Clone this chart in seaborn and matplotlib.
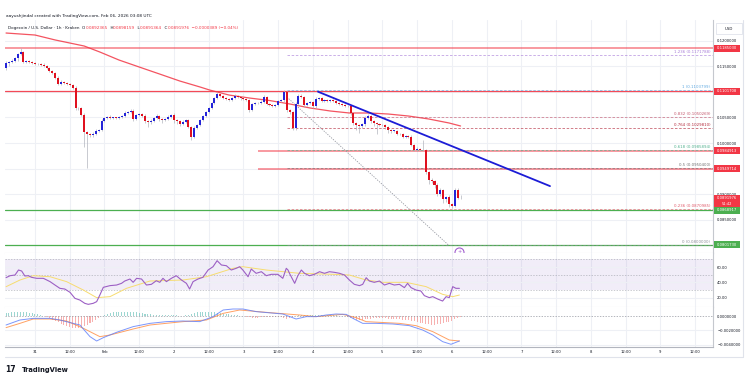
import numpy as np
import matplotlib
matplotlib.use("Agg")
import matplotlib.pyplot as plt
import matplotlib.transforms as mtrans
from matplotlib.patches import Rectangle
import seaborn as sns

# ---- data ----
# hourly candles, index 0 = Jan 30 14:00, last = Feb 6 03:00
first_open = 0.11467
closes = [
    0.11565, 0.11584, 0.11604, 0.11662, 0.11740, 0.11779, 0.11584, 0.11604, 0.11584, 0.11565,
    0.11545, 0.11540, 0.11525, 0.11506, 0.11467, 0.11408, 0.11369, 0.11271, 0.11154, 0.11193,
    0.11174, 0.11154, 0.11135, 0.11076, 0.10686, 0.10680, 0.10549, 0.10217, 0.10178, 0.10158,
    0.10178, 0.10236, 0.10256, 0.10432, 0.10490, 0.10510, 0.10490, 0.10495, 0.10488, 0.10510,
    0.10529, 0.10588, 0.10607, 0.10627, 0.10471, 0.10549, 0.10568, 0.10529, 0.10432, 0.10412,
    0.10432, 0.10490, 0.10529, 0.10471, 0.10451, 0.10471, 0.10510, 0.10549, 0.10451, 0.10432,
    0.10373, 0.10412, 0.10451, 0.10315, 0.10119, 0.10295, 0.10354, 0.10451, 0.10529, 0.10607,
    0.10686, 0.10783, 0.10881, 0.10959, 0.10920, 0.10881, 0.10861, 0.10842, 0.10881, 0.10920,
    0.10900, 0.10881, 0.10861, 0.10842, 0.10646, 0.10764, 0.10783, 0.10778, 0.10803, 0.10900,
    0.10764, 0.10744, 0.10724, 0.10744, 0.10822, 0.10842, 0.10998, 0.10646, 0.10607, 0.10295,
    0.10764, 0.10920, 0.10900, 0.10744, 0.10783, 0.10803, 0.10724, 0.10861, 0.10881, 0.10822,
    0.10842, 0.10822, 0.10842, 0.10822, 0.10783, 0.10764, 0.10744, 0.10724, 0.10720, 0.10588,
    0.10393, 0.10354, 0.10334, 0.10373, 0.10490, 0.10529, 0.10432, 0.10393, 0.10373, 0.10354,
    0.10350, 0.10315, 0.10256, 0.10236, 0.10240, 0.10178, 0.10175, 0.10119, 0.10139, 0.10119,
    0.09963, 0.09865, 0.09885, 0.09865, 0.09860, 0.09436, 0.09279, 0.09260, 0.09182, 0.09006,
    0.09084, 0.08908, 0.08947, 0.08811, 0.08771, 0.09084, 0.08924, 0.08920,
]
# wick lengths above / below the body, in units of 0.0001
wick_up = [
    3, 2, 3, 2, 2, 8, 2, 2, 2, 2,  2, 2, 2, 3, 2, 2, 2, 2, 4, 3,
    2, 2, 2, 2, 4, 2, 2, 3, 2, 2,  3, 3, 2, 3, 2, 2, 3, 2, 2, 2,
    2, 3, 2, 3, 3, 2, 2, 2, 4, 2,  3, 2, 3, 2, 2, 2, 3, 2, 3, 2,
    2, 3, 2, 2, 2, 3, 2, 2, 2, 2,  2, 2, 2, 3, 2, 2, 2, 2, 2, 3,
    2, 2, 2, 2, 2, 2, 2, 2, 3, 3,  2, 2, 2, 2, 2, 2, 4, 2, 2, 2,
    3, 3, 3, 2, 2, 2, 2, 3, 2, 2,  2, 2, 2, 2, 2, 2, 2, 2, 2, 2,
    2, 2, 2, 2, 4, 3, 2, 2, 2, 2,  2, 2, 2, 2, 2, 2, 2, 2, 2, 2,
    3, 2, 3, 2, 20, 3, 2, 3, 2, 3,  3, 2, 2, 3, 2, 4, 3, 6,
]
wick_dn = [
    3, 5, 2, 2, 6, 2, 2, 2, 2, 2,  2, 2, 2, 2, 2, 2, 2, 2, 2, 2,
    2, 2, 2, 2, 3, 3, 2, 29, 66, 3,  3, 2, 2, 2, 2, 2, 2, 2, 2, 2,
    2, 2, 2, 2, 4, 2, 2, 2, 3, 10,  4, 2, 2, 3, 5, 2, 2, 2, 6, 6,
    4, 2, 2, 2, 6, 2, 2, 2, 2, 2,  2, 2, 2, 2, 2, 2, 2, 2, 2, 2,
    2, 3, 2, 2, 3, 2, 2, 2, 2, 2,  2, 2, 2, 2, 2, 2, 3, 3, 3, 4,
    3, 2, 2, 3, 2, 2, 4, 3, 2, 2,  2, 2, 2, 2, 2, 2, 2, 2, 2, 3,
    4, 10, 14, 4, 3, 2, 3, 6, 20, 2,  2, 3, 5, 3, 2, 2, 2, 2, 2, 2,
    2, 2, 2, 2, 2, 3, 8, 4, 6, 4,  4, 8, 5, 6, 4, 2, 2, 1,
]

# moving average (red curve)
ma_idx = [0, 10, 17, 22, 27, 32.4, 39, 46, 53, 60, 67, 70.3, 77, 84, 91, 98,
          105, 112, 118.6, 125.5, 132, 139, 146, 153, 157]
ma_val = [0.12150, 0.12111, 0.12014, 0.11955, 0.11896, 0.11779, 0.11623, 0.11486,
          0.11350, 0.11213, 0.11096, 0.11037, 0.10939, 0.10881, 0.10832, 0.10764,
          0.10686, 0.10627, 0.10588, 0.10588, 0.10568, 0.10529, 0.10471, 0.10393, 0.10334]

# horizontal levels
res_full = [0.1185030, 0.1101708]
res_part = [0.0984913, 0.0949714]
sup_lines = [0.0868917, 0.0801730]

fib_ratio = ["1.236", "1", "0.832", "0.764", "0.618", "0.5", "0.236", "0"]
fib_price = [0.1171788, 0.1103799, 0.1050269, 0.1029810, 0.0985894, 0.0950400, 0.0870985, 0.0800000]
fib_color = ["#a77bd8", "#5ea8e0", "#c4566c", "#b3283a", "#4fb08d", "#707070", "#e05a6a", "#8a8d96"]

trend_idx = [107.75, 187.9]
trend_val = [0.11004, 0.09160]
diag_idx = [97, 153]
diag_val = [0.1090, 0.0800]

# RSI + its moving average
rsi_idx = [0, 1.4, 3.1, 4.3, 5.4, 6.5, 7.7, 8.8, 10.6, 12.9, 15.2, 16.9, 18.6, 20.3, 22.1,
           23.8, 25.5, 27.2, 28.4, 30.1, 31.3, 32.4, 33.6, 35.9, 38.2, 39.9, 41.0, 42.8,
           43.9, 45.1, 46.8, 48.5, 50.2, 51.9, 53.1, 54.2, 55.4, 57.1, 58.8, 60.6, 62.3,
           63.4, 64.6, 66.3, 68.0, 69.8, 71.5, 72.9, 74.4, 76.1, 77.8, 79.5, 80.7, 81.8,
           83.6, 84.7, 86.4, 88.2, 89.9, 91.6, 93.9, 95.6, 96.8, 97.4, 97.9, 99.7, 100.8,
           102.0, 103.1, 104.8, 106.5, 108.3, 110.0, 111.7, 113.4, 115.2, 116.9, 118.6,
           120.3, 122.1, 123.2, 124.4, 125.5, 127.2, 129.0, 130.7, 132.4, 134.1, 135.9,
           137.6, 138.7, 139.9, 141.6, 143.3, 144.5, 146.2, 147.4, 149.1, 150.8, 152.0,
           153.1, 154.3, 155.4, 156.6]
rsi_val = [46.2, 48.7, 49.6, 56.1, 54.8, 48.3, 48.7, 46.6, 45.3, 45.3, 41.0, 36.6, 32.3,
           31.4, 27.1, 19.3, 17.1, 12.8, 11.5, 12.8, 15.0, 23.6, 33.6, 35.8, 36.6, 38.8,
           41.8, 44.4, 40.1, 45.3, 44.4, 36.6, 37.5, 42.2, 40.1, 45.3, 41.0, 45.3, 48.7,
           43.1, 38.8, 31.4, 41.0, 44.4, 46.6, 56.1, 60.4, 68.2, 62.6, 61.7, 56.1, 58.3,
           60.4, 56.1, 47.4, 57.4, 51.8, 53.9, 48.7, 50.5, 50.5, 45.3, 58.3, 56.1, 51.8,
           38.8, 48.7, 56.1, 51.8, 48.7, 50.5, 53.9, 51.8, 53.9, 53.1, 51.8, 49.6, 43.1,
           37.5, 35.8, 37.5, 46.1, 41.8, 40.1, 41.8, 36.6, 38.8, 36.6, 37.5, 33.2, 38.8,
           33.2, 30.1, 28.8, 22.8, 20.2, 21.5, 18.4, 15.8, 21.5, 20.2, 34.5, 32.3, 32.3]
rsima_idx = [0, 4.8, 9.4, 15.2, 20.9, 26.7, 31.3, 35.9, 41.6, 49.7, 61.1, 69.2, 78.4,
             81.8, 89.9, 101.4, 112.9, 118.6, 124.4, 130.1, 138.2, 145.1, 150.8, 154.3, 156.6]
rsima_val = [34.4, 43.1, 48.7, 47.4, 41.0, 30.1, 20.2, 21.5, 32.3, 41.8, 43.1, 47.4, 58.3,
             60.4, 56.1, 51.8, 50.5, 49.6, 43.1, 40.1, 40.1, 34.5, 24.5, 21.5, 23.6]

# MACD
macd_idx = [0, 4.8, 9.4, 15.2, 18.6, 23.2, 25.5, 29.0, 31.3, 33.6, 38.2, 43.9, 49.7, 55.4,
            61.1, 66.9, 71.5, 75.0, 78.4, 81.8, 86.4, 95.6, 100.2, 103.7, 107.1, 110.6,
            114.0, 117.5, 119.8, 123.2, 127.8, 133.6, 139.3, 143.9, 147.4, 150.8, 153.7, 156.6]
macd_val = [-0.00126, -0.00056, -0.00033, -0.00033, -0.00056, -0.00103, -0.00126, -0.00289,
            -0.00350, -0.00303, -0.00228, -0.00149, -0.00103, -0.00079, -0.00070, -0.00079,
            -0.00009, 0.00084, 0.00098, 0.00098, 0.00061, 0.00028, -0.00042, -0.00009,
            -0.00009, 0.00014, 0.00028, 0.00023, -0.00033, -0.00103, -0.00103, -0.00112,
            -0.00135, -0.00196, -0.00266, -0.00359, -0.00396, -0.00350]
signal_idx = [0, 4.8, 9.4, 15.2, 20.9, 26.7, 32.4, 35.9, 43.9, 49.7, 61.1, 69.2, 75.0, 80.7,
              89.9, 101.4, 107.1, 116.3, 120.9, 124.4, 135.9, 141.6, 147.4, 153.1, 156.6]
signal_val = [-0.00163, -0.00103, -0.00042, -0.00042, -0.00070, -0.00172, -0.00289, -0.00266,
              -0.00182, -0.00126, -0.00079, -0.00056, 0.00037, 0.00084, 0.00051, 0.00014,
              -0.00009, 0.00023, -0.00023, -0.00079, -0.00103, -0.00135, -0.00219, -0.00336,
              -0.00350]
# histogram, units of 0.00001
hist = [
    40, 45, 50, 55, 60, 60, 55, 50, 45, 40,  35, 25, 15, 5, -10, -30, -50, -70, -90, -110,
    -130, -145, -155, -165, -170, -165, -155, -140, -120, -100,  -80, -55, -30, -5, 15, 30, 40, 50, 55, 60,
    60, 60, 55, 55, 50, 50, 45, 40, 35, 30,  25, 20, 20, 15, 15, 10, 10, 10, 10, 10,
    5, 5, 10, 20, 30, 40, 50, 55, 60, 60,  60, 55, 50, 45, 40, 35, 30, 25, 20, 15,
    10, 5, -5, -15, -20, -25, -25, -25, -20, -20,  -15, -15, -10, -10, -15, -20, -30, -35, -30, -15,
    5, 15, 20, 20, 20, 15, 15, 15, 15, 15,  15, 15, 10, 10, 10, 5, 5, 0, -15, -30,
    -45, -50, -55, -50, -45, -40, -35, -30, -30, -30,  -30, -30, -35, -35, -40, -40, -45, -50, -55, -60,
    -65, -75, -85, -95, -100, -110, -115, -120, -120, -115,  -110, -100, -90, -80, -65, -45, -30, -15,
]

tick_idx = [10 + 12 * k for k in range(20)]
tick_lab = ["31", "12:00", "Feb", "12:00", "2", "12:00", "3", "12:00", "4", "12:00",
            "5", "12:00", "6", "12:00", "7", "12:00", "8", "12:00", "9", "12:00"]
price_ticks = [0.120, 0.115, 0.110, 0.105, 0.100, 0.095, 0.090, 0.085, 0.080]

# ---- figure ----
sns.set_style("white")
plt.rcParams['font.family'] = ['DejaVu Sans']
W, H = 749, 382
fig = plt.figure(figsize=(W / 100, H / 100), dpi=100)


def box(x0, y0, x1, y1):
    return [x0 / W, 1 - y1 / H, (x1 - x0) / W, (y1 - y0) / H]


ax = fig.add_axes(box(5, 20, 713, 253))
ax_rsi = fig.add_axes(box(5, 253, 713, 307), sharex=ax)
ax_macd = fig.add_axes(box(5, 307, 713, 347), sharex=ax)
ax.set_xlim(-0.36, 244.2)
ax.set_ylim(0.078535, 0.124043)
ax_rsi.set_ylim(8.05, 78.2)
ax_macd.set_ylim(-0.00434, 0.00126)

grid_c = "#eef0f5"
for a in (ax, ax_rsi, ax_macd):
    for t in tick_idx:
        a.axvline(t, color=grid_c, lw=0.8, zorder=0)
    for s in ("top", "left"):
        a.spines[s].set_visible(False)
    a.spines["right"].set_color("#c5c8ce")
    a.spines["right"].set_linewidth(0.8)
    a.spines["bottom"].set_color("#e0e3eb")
    a.spines["bottom"].set_linewidth(0.8)
    a.yaxis.tick_right()
    a.tick_params(axis="both", length=0, labelsize=2.7, labelcolor="#131722", pad=3)
ax_macd.spines["bottom"].set_color("#b2b5be")
for p in price_ticks:
    ax.axhline(p, color=grid_c, lw=0.8, zorder=0)

# candles
n = len(closes)
idx = np.arange(n)
o = np.array([first_open] + closes[:-1])
c = np.array(closes)
hi = np.maximum(o, c) + np.array(wick_up) * 1e-4
lo = np.minimum(o, c) - np.array(wick_dn) * 1e-4
ax.vlines(idx, lo, hi, color="#b2b5be", lw=0.5, zorder=3)
ax.bar(idx, np.maximum(np.abs(c - o), 0.00012), bottom=np.minimum(o, c), width=0.7,
       color=np.where(c >= o, "#2424d8", "#e0111f"), linewidth=0, zorder=4)

sns.lineplot(x=ma_idx, y=ma_val, ax=ax, color="#f23645", linewidth=0.9, alpha=0.85, zorder=2)

# levels
for p in res_full:
    ax.axhline(p, color="#f23645", lw=1.3 if p > 0.115 else 0.9, alpha=0.55 if p > 0.115 else 0.9, zorder=2)
ax.hlines(res_part, 87, 244.2, color="#f23645", lw=1.3, alpha=0.55, zorder=2)
for p in sup_lines:
    ax.axhline(p, color="#4caf50", lw=0.9, zorder=2)
for r, p, col in zip(fib_ratio, fib_price, fib_color):
    ax.hlines(p, 97, 244.2, color=col, lw=0.6, ls=(0, (3, 2)), alpha=0.7, zorder=2)
    ax.annotate(f"{r} ({p:.7f})", (243.3, p), xytext=(0, 0.8), textcoords="offset points",
                ha="right", va="bottom", fontsize=2.8, color=col)
ax.plot(diag_idx, diag_val, color="#9598a1", lw=0.6, ls=(0, (1.5, 1.5)), zorder=2)
ax.plot(trend_idx, trend_val, color="#1c1cd6", lw=1.3, zorder=5)
ax.plot([156.6], [0.07875], marker="o", ms=6.5, mfc="white", mec="#a35fd0", mew=0.8,
        clip_on=False, zorder=6)
ax.text(156.6, 0.07875, "+", color="#a35fd0", fontsize=3.5, ha="center", va="center",
        clip_on=False, zorder=7)

ax.set_yticks(price_ticks, [f"{p:.7f}" for p in price_ticks])
ax.set_xlabel("")
ax.set_ylabel("")
plt.setp(ax.get_xticklabels(), visible=False)

# RSI
ax_rsi.axhspan(30, 70, color="#7e57c2", alpha=0.1, lw=0, zorder=0)
for v in (70, 50, 30):
    ax_rsi.axhline(v, color="#9598a1", lw=0.5, ls=(0, (2, 2)), alpha=0.7, zorder=1)
for v in (60, 40, 20):
    ax_rsi.axhline(v, color=grid_c, lw=0.8, zorder=0)
sns.lineplot(x=rsima_idx, y=rsima_val, ax=ax_rsi, color="#f7dc6f", linewidth=0.7, zorder=2)
sns.lineplot(x=rsi_idx, y=rsi_val, ax=ax_rsi, color="#9c5fc4", linewidth=0.8, zorder=3)
ax_rsi.set_yticks([60, 40, 20], ["60.00", "40.00", "20.00"])
ax_rsi.set_xlabel("")
ax_rsi.set_ylabel("")
plt.setp(ax_rsi.get_xticklabels(), visible=False)

# MACD
hv = np.array(hist) * 1e-5
ax_macd.bar(idx, hv, width=0.35, color=np.where(hv >= 0, "#26a69a", "#ef5350"), alpha=0.45,
            linewidth=0, zorder=1)
ax_macd.axhline(0, color="#9598a1", lw=0.5, ls=(0, (2, 2)), zorder=1)
for v in (-0.002, -0.004):
    ax_macd.axhline(v, color=grid_c, lw=0.8, zorder=0)
sns.lineplot(x=signal_idx, y=signal_val, ax=ax_macd, color="#ff8a3d", linewidth=0.7, alpha=0.8, zorder=2)
sns.lineplot(x=macd_idx, y=macd_val, ax=ax_macd, color="#5b7cfa", linewidth=0.7, alpha=0.8, zorder=3)
ax_macd.set_yticks([0, -0.002, -0.004], ["0.0000000", "\u22120.0020000", "\u22120.0040000"])
ax_macd.set_xticks(tick_idx, tick_lab)
ax_macd.tick_params(axis="x", pad=2)
ax_macd.set_xlabel("")
ax_macd.set_ylabel("")

# price tags on the right axis
ident = mtrans.IdentityTransform()


def tag(price, text, color, h=7, below=0):
    y = ax.transData.transform((0, price))[1]
    fig.add_artist(Rectangle((714, y - h / 2 - below), 26, h + below, transform=ident,
                             facecolor=color, edgecolor="none", zorder=5))
    fig.text(727 / W, y / H, text, fontsize=2.7, color="white", ha="center", va="center", zorder=6)
    return y


for p in res_full + res_part:
    tag(p, f"{p:.7f}", "#f23645")
for p in sup_lines:
    tag(p, f"{p:.7f}", "#4caf50")
yc = tag(closes[-1] - 0.0000024, "0.0891976", "#f23645", h=7, below=5)
fig.text(727 / W, (yc - 5.5) / H, "51:42", fontsize=2.6, color="white", ha="center", va="center", zorder=6)

# USD box
fig.add_artist(Rectangle((716, H - 34), 26, 11, transform=ident, facecolor="white",
                         edgecolor="#e0e3eb", lw=0.6, zorder=5))
fig.text(729 / W, 1 - 28.5 / H, "USD", fontsize=2.8, color="#131722", ha="center", va="center", zorder=6)

# widget frame
fig.add_artist(plt.Line2D([5 / W, 743 / W], [1 - 357 / H, 1 - 357 / H], color="#e0e3eb", lw=0.8))
fig.add_artist(plt.Line2D([743 / W, 743 / W], [1 - 357 / H, 1 - 20 / H], color="#e0e3eb", lw=0.8))

# header texts
fig.text(6 / W, 1 - 16 / H, "aayushjindal created with TradingView.com, Feb 06, 2026 03:08 UTC",
         fontsize=3.1, color="#131722", va="center")
renderer = fig.canvas.get_renderer()
dark, red = "#131722", "#f23645"
segments = [("Dogecoin / U.S. Dollar \u00b7 1h \u00b7 Kraken  ", dark), ("O", dark), ("0.0892365", red),
            ("  H", dark), ("0.0898159", red), ("  L", dark), ("0.0891364", red),
            ("  C", dark), ("0.0891976", red), ("  \u22120.0000389 (\u22120.04%)", red)]
xp = 8
for s, col in segments:
    t = fig.text(xp / W, 1 - 28 / H, s, fontsize=3.0, color=col, va="center", ha="left")
    xp += t.get_window_extent(renderer).width

# logo
fig.text(5 / W, 1 - 370 / H, "17", fontsize=5.5, weight="heavy", color="#131722", va="center")
fig.text(22 / W, 1 - 370 / H, "TradingView", fontsize=4.9, weight="bold", color="#131722", va="center")

fig.savefig("out.png", dpi=100)
